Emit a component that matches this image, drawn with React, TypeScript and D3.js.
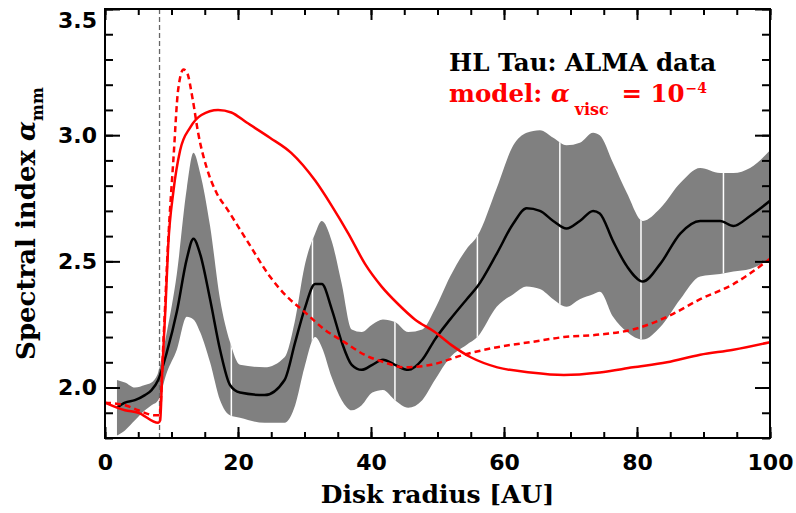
import React, { useEffect, useRef } from 'react';
import * as d3 from 'd3';

// ALMA data: mean spectral index and its uncertainty band
const dataRadius = [1.8, 3, 4.5, 6, 7, 8, 9.3, 10.8, 12.3, 13.3, 14.3, 15.8, 17.3, 18.8, 20.3, 24, 27, 28.6, 30, 31.6, 32.6, 34.1, 35.6, 37.1, 38.6, 40.2, 41.8, 43.6, 45.6, 47.7, 49.6, 51.9, 54.4, 56, 58.9, 61.4, 63.4, 65.4, 67.4, 69.4, 71.4, 73.4, 74.4, 76.4, 78.5, 80.9, 83.5, 86.5, 89.5, 92.5, 94.5, 97, 100];
const dataMean = [1.92, 1.94, 1.95, 1.97, 1.99, 2.03, 2.14, 2.3, 2.51, 2.59, 2.53, 2.35, 2.15, 2.01, 1.98, 1.97, 2.03, 2.18, 2.31, 2.41, 2.41, 2.31, 2.18, 2.09, 2.07, 2.09, 2.11, 2.09, 2.07, 2.11, 2.19, 2.27, 2.35, 2.4, 2.53, 2.65, 2.71, 2.7, 2.66, 2.63, 2.66, 2.7, 2.69, 2.58, 2.48, 2.42, 2.49, 2.61, 2.66, 2.66, 2.64, 2.68, 2.74];
const dataUpper = [2.03, 2.02, 2.0, 2.01, 2.02, 2.06, 2.22, 2.45, 2.79, 2.93, 2.85, 2.64, 2.35, 2.18, 2.09, 2.08, 2.12, 2.27, 2.48, 2.61, 2.66, 2.58, 2.41, 2.23, 2.22, 2.25, 2.27, 2.26, 2.22, 2.23, 2.31, 2.44, 2.55, 2.6, 2.79, 2.96, 3.01, 3.02, 2.99, 2.96, 2.97, 3.01, 3.0, 2.89, 2.77, 2.66, 2.71, 2.81, 2.87, 2.85, 2.85, 2.87, 2.94];
const dataLower = [1.81, 1.83, 1.87, 1.91, 1.93, 1.95, 2.06, 2.15, 2.28, 2.27, 2.22, 2.1, 1.95, 1.89, 1.88, 1.86, 1.86, 1.93, 2.08, 2.2, 2.16, 2.04, 1.95, 1.91, 1.93, 1.98, 1.99, 1.95, 1.92, 1.95, 2.03, 2.12, 2.17, 2.2, 2.32, 2.37, 2.4, 2.39, 2.35, 2.32, 2.35, 2.37, 2.38, 2.28, 2.22, 2.19, 2.24, 2.35, 2.44, 2.45, 2.46, 2.47, 2.51];
const bandBreaks = [19, 31.2, 43.6, 56, 68.4, 80.6, 93];

// model, alpha_visc = 1e-4 (solid and dashed)
const solidRadius = [0, 3, 5, 8, 8.3, 8.6, 9.1, 9.5, 10.3, 11.3, 12.8, 14.5, 17, 19, 21.3, 24.8, 28, 31.6, 34.1, 36.6, 39.1, 41.6, 44.1, 46.6, 49.6, 52, 55, 59, 64, 69, 74.4, 79.4, 84.5, 89.5, 94.5, 100];
const solidModel = [1.94, 1.91, 1.9, 1.86, 1.87, 2.06, 2.32, 2.56, 2.78, 2.94, 3.03, 3.08, 3.1, 3.09, 3.05, 2.99, 2.93, 2.82, 2.72, 2.61, 2.49, 2.4, 2.33, 2.27, 2.22, 2.17, 2.12, 2.08, 2.06, 2.05, 2.06, 2.08, 2.1, 2.13, 2.15, 2.18];
const dashedRadius = [0, 3, 5, 7.5, 8.2, 8.8, 9.5, 10.3, 11, 11.8, 12.3, 13.2, 14, 15.3, 16.8, 18.3, 21.4, 24.8, 27, 30, 33, 36, 39, 42, 45, 49, 54, 59, 64, 69, 74.4, 79.4, 84.5, 89.5, 94.5, 100];
const dashedModel = [1.94, 1.93, 1.91, 1.89, 1.89, 2.19, 2.58, 2.91, 3.18, 3.26, 3.25, 3.14, 3.01, 2.87, 2.77, 2.71, 2.58, 2.44, 2.37, 2.3, 2.23, 2.18, 2.13, 2.1, 2.08, 2.09, 2.13, 2.16, 2.18, 2.2, 2.21, 2.23, 2.28, 2.35, 2.41, 2.51];

const innerEdge = 8.2;
const xTicks = [0, 20, 40, 60, 80, 100];
const yTicks = [2.0, 2.5, 3.0, 3.5];

const W = 796;
const H = 513;
const margin = { top: 9, right: 26, bottom: 75, left: 105 };
const tickFont = '"DejaVu Sans", sans-serif';
const titleFont = '"DejaVu Serif", serif';

export default function App() {
  const svgRef = useRef(null);

  useEffect(() => {
    const svg = d3.select(svgRef.current);
    svg.selectAll('*').remove();

    const x = d3.scaleLinear().domain([0, 100]).range([margin.left, W - margin.right]);
    const y = d3.scaleLinear().domain([1.8, 3.5]).range([H - margin.bottom, margin.top]);
    const x0 = margin.left, x1 = W - margin.right, y0 = H - margin.bottom, y1 = margin.top;

    const defs = svg.append('defs');
    defs.append('clipPath').attr('id', 'plot-clip')
      .append('rect').attr('x', x0).attr('y', y1).attr('width', x1 - x0).attr('height', y0 - y1);

    const band = d3.area()
      .x((_, i) => x(dataRadius[i]))
      .y0((_, i) => y(dataLower[i]))
      .y1((_, i) => y(dataUpper[i]))
      .curve(d3.curveMonotoneX);
    defs.append('clipPath').attr('id', 'band-clip')
      .append('path').attr('d', band(dataRadius));

    const plot = svg.append('g').attr('clip-path', 'url(#plot-clip)');

    plot.append('path').attr('d', band(dataRadius)).attr('fill', '#808080');

    // white seams in the band
    plot.append('g').attr('clip-path', 'url(#band-clip)')
      .selectAll('line').data(bandBreaks).join('line')
      .attr('x1', (d) => x(d)).attr('x2', (d) => x(d))
      .attr('y1', y1).attr('y2', y0)
      .attr('stroke', '#fff').attr('stroke-width', 1.5);

    plot.append('line')
      .attr('x1', x(innerEdge)).attr('x2', x(innerEdge))
      .attr('y1', y1).attr('y2', y0)
      .attr('stroke', '#666').attr('stroke-width', 1.3)
      .attr('stroke-dasharray', '5,3');

    const line = (xs, ys) => d3.line()
      .x((_, i) => x(xs[i]))
      .y((_, i) => y(ys[i]))
      .curve(d3.curveMonotoneX)(xs);

    plot.append('path').attr('d', line(dataRadius, dataMean))
      .attr('fill', 'none').attr('stroke', '#000').attr('stroke-width', 2.5);

    plot.append('path').attr('d', line(dashedRadius, dashedModel))
      .attr('fill', 'none').attr('stroke', '#ff0000').attr('stroke-width', 2.5)
      .attr('stroke-dasharray', '6,4');

    plot.append('path').attr('d', line(solidRadius, solidModel))
      .attr('fill', 'none').attr('stroke', '#ff0000').attr('stroke-width', 2.5);

    // axes, ticks pointing inward on all four sides
    const xMinor = d3.range(0, 101, 5);
    const yMinor = d3.range(18, 36).map((d) => d / 10);

    const styleAxis = (g) => {
      g.select('.domain').remove();
      g.selectAll('.tick line').attr('stroke', '#000').attr('stroke-width', 2);
      g.selectAll('.tick text')
        .attr('fill', '#000')
        .style('font-family', tickFont)
        .style('font-weight', 'bold')
        .style('font-size', '22px');
    };

    svg.append('g').attr('transform', `translate(0,${y0})`)
      .call(d3.axisBottom(x).tickValues(xMinor).tickFormat(() => '').tickSize(-6)).call(styleAxis);
    svg.append('g').attr('transform', `translate(0,${y0})`)
      .call(d3.axisBottom(x).tickValues(xTicks).tickFormat(d3.format('d')).tickSize(-11).tickPadding(16))
      .call(styleAxis);
    svg.append('g').attr('transform', `translate(0,${y1})`)
      .call(d3.axisTop(x).tickValues(xMinor).tickFormat(() => '').tickSize(-6)).call(styleAxis);
    svg.append('g').attr('transform', `translate(0,${y1})`)
      .call(d3.axisTop(x).tickValues(xTicks).tickFormat(() => '').tickSize(-11)).call(styleAxis);

    svg.append('g').attr('transform', `translate(${x0},0)`)
      .call(d3.axisLeft(y).tickValues(yMinor).tickFormat(() => '').tickSize(-8)).call(styleAxis);
    svg.append('g').attr('transform', `translate(${x0},0)`)
      .call(d3.axisLeft(y).tickValues(yTicks).tickFormat(d3.format('.1f')).tickSize(-15).tickPadding(8))
      .call(styleAxis)
      .call((g) => g.selectAll('.tick text').filter((d) => d === 3.5).attr('dy', '0.85em'));
    svg.append('g').attr('transform', `translate(${x1},0)`)
      .call(d3.axisRight(y).tickValues(yMinor).tickFormat(() => '').tickSize(-8)).call(styleAxis);
    svg.append('g').attr('transform', `translate(${x1},0)`)
      .call(d3.axisRight(y).tickValues(yTicks).tickFormat(() => '').tickSize(-15)).call(styleAxis);

    svg.append('rect')
      .attr('x', x0).attr('y', y1).attr('width', x1 - x0).attr('height', y0 - y1)
      .attr('fill', 'none').attr('stroke', '#000').attr('stroke-width', 2);

    // titles
    svg.append('text')
      .attr('x', (x0 + x1) / 2).attr('y', 503)
      .attr('text-anchor', 'middle')
      .style('font-family', titleFont).style('font-weight', 'bold').style('font-size', '25px')
      .text('Disk radius [AU]');

    const yTitle = svg.append('text')
      .attr('transform', `translate(35,${(y0 + y1) / 2}) rotate(-90)`)
      .attr('text-anchor', 'middle')
      .style('font-family', titleFont).style('font-weight', 'bold').style('font-size', '26px');
    yTitle.append('tspan').text('Spectral index ');
    yTitle.append('tspan').style('font-style', 'italic').text('α');
    yTitle.append('tspan').attr('dy', 8).style('font-size', '16px').text('mm');

    const legend = svg.append('g')
      .style('font-family', titleFont).style('font-weight', 'bold').style('font-size', '24.5px');
    legend.append('text').attr('x', 449).attr('y', 71).attr('fill', '#000').text('HL Tau: ALMA data');
    const modelText = legend.append('text').attr('x', 449).attr('y', 102).attr('fill', '#ff0000');
    modelText.append('tspan').text('model: ');
    modelText.append('tspan').style('font-style', 'italic').text('α');
    modelText.append('tspan').attr('dx', 5).attr('dy', 13).style('font-size', '16px').text('visc');
    modelText.append('tspan').attr('dx', 4).attr('dy', -13).text(' = 10');
    modelText.append('tspan').attr('dx', 1).attr('dy', -9).style('font-size', '14px').text('−4');
  }, []);

  return (
    <svg
      ref={svgRef}
      width={W}
      height={H}
      style={{ position: 'absolute', left: 0, top: 0, background: '#fff' }}
    />
  );
}
